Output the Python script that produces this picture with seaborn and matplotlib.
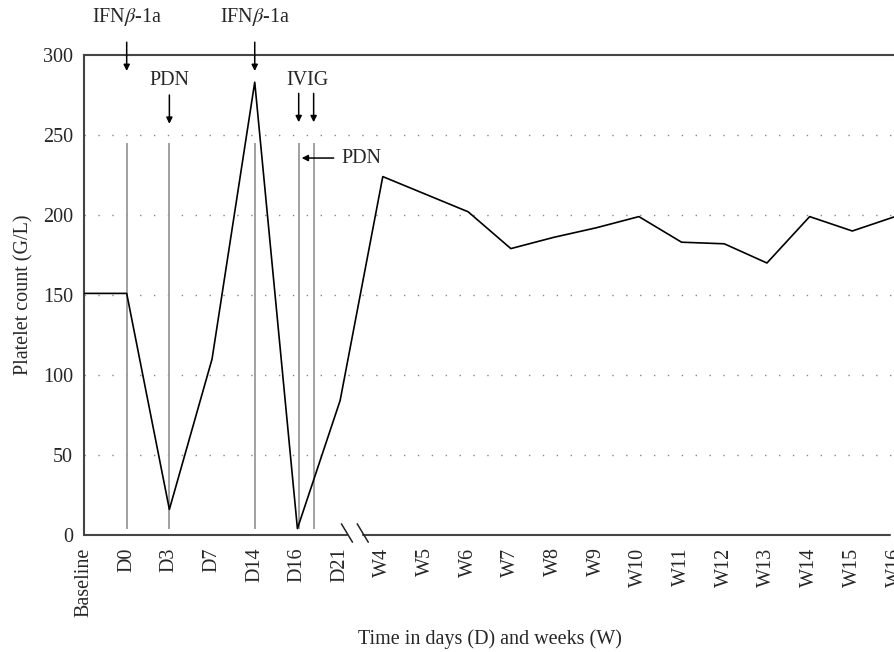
import matplotlib
matplotlib.use("Agg")
import matplotlib.pyplot as plt
import seaborn as sns
import pandas as pd
import numpy as np

# ---- data ----
time_labels = ["Baseline", "D0", "D3", "D7", "D14", "D16", "D21", "W4", "W5", "W6",
               "W7", "W8", "W9", "W10", "W11", "W12", "W13", "W14", "W15", "W16"]
platelets = [151, 151, 16, 110, 283, 4, 84, 224, 213, 202,
             179, 186, 192, 199, 183, 182, 170, 199, 190, 199]
event_positions = [1, 2, 4, 5.03, 5.38]   # treatment days (grey vertical lines)
y_ticks = [0, 50, 100, 150, 200, 250, 300]

sns.set_style("white")
plt.rcParams["font.family"] = ["Liberation Serif", "DejaVu Serif"]
plt.rcParams["mathtext.fontset"] = "stix"
FS = 14.5

df = pd.DataFrame({"t": np.arange(len(time_labels)), "count": platelets})

fig = plt.figure(figsize=(8.95, 6.52), dpi=100)
ax = fig.add_axes([84 / 895, 117 / 652, 1 - 84 / 895, 480 / 652])

# grey event lines
ax.vlines(event_positions, 4, 245, color="#9a9a9a", lw=1.3, zorder=1)

sns.lineplot(data=df, x="t", y="count", color="black", lw=1.2, sort=False, ax=ax, zorder=3)

ax.set_xlim(0, 18.89)
ax.set_ylim(0, 300)
ax.set_xticks(df["t"])
ax.set_xticklabels(time_labels, rotation=90, fontsize=FS)
ax.set_yticks(y_ticks)
ax.set_yticklabels([str(v) for v in y_ticks], fontsize=FS)
ax.tick_params(axis="both", length=0)
ax.tick_params(axis="x", pad=9)
ax.tick_params(axis="y", pad=8)

for v in y_ticks[1:-1]:
    ax.axhline(v, color="#888888", lw=1.0, ls=(0, (1, 9)), zorder=0)

for s in ["left", "top"]:
    ax.spines[s].set_color("#444444")
    ax.spines[s].set_linewidth(1.5)
ax.spines["right"].set_visible(False)
ax.spines["bottom"].set_visible(False)

# bottom axis with break
ax.plot([0, 6.15], [0, 0], color="#444444", lw=1.5, clip_on=False, zorder=4)
ax.plot([6.54, 18.89], [0, 0], color="#444444", lw=1.5, clip_on=False, zorder=4)
ax.plot([6.03, 6.29], [7, -4.5], color="#222222", lw=1.1, clip_on=False, zorder=4)
ax.plot([6.40, 6.66], [7, -4.5], color="#222222", lw=1.1, clip_on=False, zorder=4)

ax.set_xlabel("Time in days (D) and weeks (W)", fontsize=FS)
ax.xaxis.set_label_coords(0.5, -0.196)
ax.set_ylabel("Platelet count (G/L)", fontsize=FS, labelpad=7)

arrow = dict(arrowstyle="-|>", color="black", lw=1.1, mutation_scale=9, shrinkA=0, shrinkB=0)

def down_arrow(x, y0, y1):
    ax.annotate("", xy=(x, y1), xytext=(x, y0), arrowprops=arrow, annotation_clip=False)

ax.text(1, 324, "IFN$\\beta$-1a", ha="center", va="center", fontsize=FS)
down_arrow(1, 308, 290)
ax.text(4, 324, "IFN$\\beta$-1a", ha="center", va="center", fontsize=FS)
down_arrow(4, 308, 290)
ax.text(2, 284, "PDN", ha="center", va="center", fontsize=FS)
down_arrow(2, 275, 257)
ax.text(5.24, 284, "IVIG", ha="center", va="center", fontsize=FS)
down_arrow(5.03, 276, 258)
down_arrow(5.38, 276, 258)
ax.annotate("", xy=(5.10, 235.6), xytext=(5.85, 235.6), arrowprops=arrow, annotation_clip=False)
ax.text(6.03, 235.6, "PDN", ha="left", va="center", fontsize=FS)

fig.savefig("out.png", dpi=100)
